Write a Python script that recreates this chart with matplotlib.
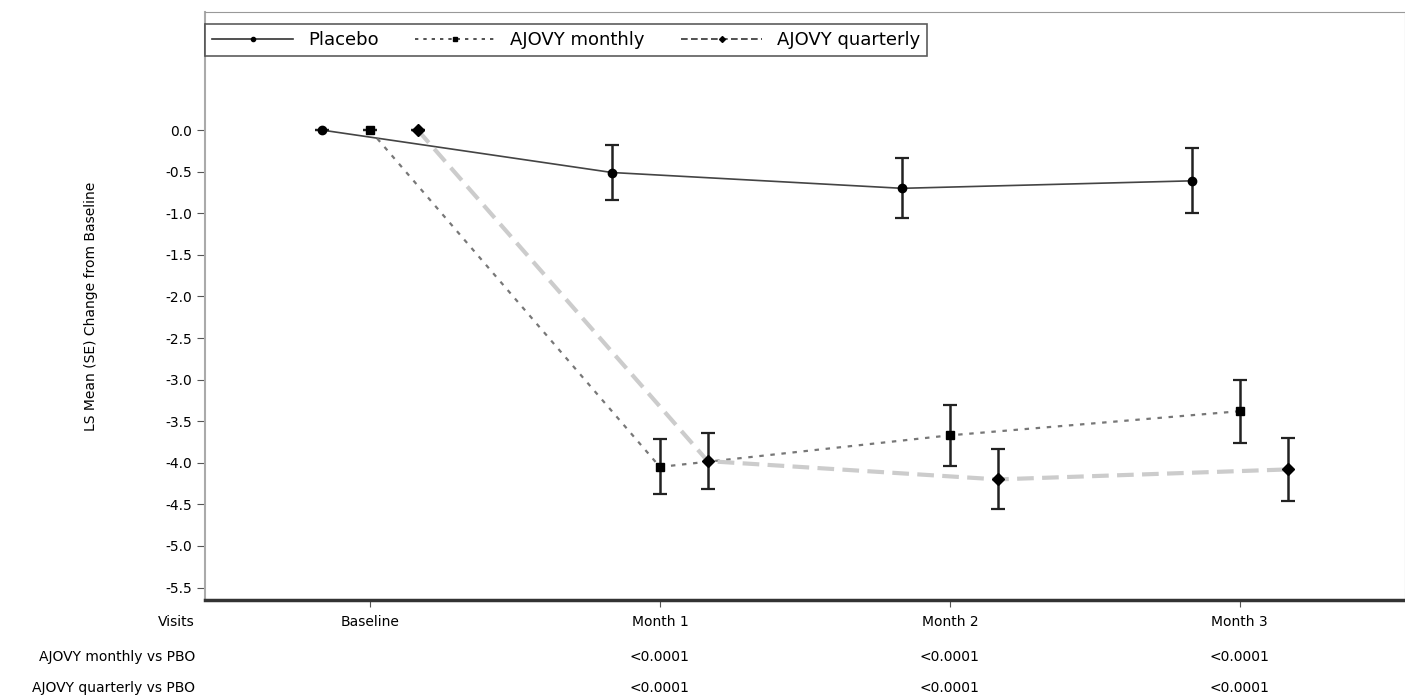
import matplotlib.pyplot as plt
from matplotlib.lines import Line2D

visits = ["Baseline", "Month 1", "Month 2", "Month 3"]
series_names = ["Placebo", "AJOVY monthly", "AJOVY quarterly"]

placebo_mean = [0.0, -0.51, -0.70, -0.61]
placebo_err = [0.0, 0.33, 0.36, 0.39]
monthly_mean = [0.0, -4.05, -3.67, -3.38]
monthly_err = [0.0, 0.33, 0.37, 0.38]
quarterly_mean = [0.0, -3.98, -4.20, -4.08]
quarterly_err = [0.0, 0.34, 0.36, 0.38]

row_labels = ["Visits", "AJOVY monthly vs PBO", "AJOVY quarterly vs PBO"]
p_monthly = ["", "<0.0001", "<0.0001", "<0.0001"]
p_quarterly = ["", "<0.0001", "<0.0001", "<0.0001"]

yticks = [0.0, -0.5, -1.0, -1.5, -2.0, -2.5, -3.0, -3.5, -4.0, -4.5, -5.0, -5.5]

fig = plt.figure(figsize=(14.05, 6.99), dpi=100)
ax = fig.add_axes([205 / 1405, 99 / 699, 1 - 205 / 1405, 588 / 699])

offsets = [-0.165, 0.0, 0.165]
means = [placebo_mean, monthly_mean, quarterly_mean]
errs = [placebo_err, monthly_err, quarterly_err]
styles = [
    dict(color="#444444", linestyle="-", lw=1.2, marker="o"),
    dict(color="#777777", linestyle=(0, (2, 3)), lw=1.6, marker="s"),
    dict(color="#cccccc", linestyle=(0, (4, 2)), lw=3.0, marker="D"),
]

handles = []
for off, m, e, st, name in zip(offsets, means, errs, styles, series_names):
    xs = [i + off for i in range(len(visits))]
    ax.plot(xs, m, color=st["color"], linestyle=st["linestyle"], lw=st["lw"], zorder=1)
    ax.errorbar(xs, m, yerr=e, fmt=st["marker"], color="black", ms=6,
                ecolor="#222222", elinewidth=1.8, capsize=5, capthick=1.6, zorder=3)
    handles.append(Line2D([0], [0], color="#333333", linestyle=st["linestyle"],
                          lw=1.2, marker=st["marker"], ms=3, mfc="black", mec="black"))

ax.set_xlim(-0.569, 3.57)
ax.set_ylim(-5.65, 1.42)
ax.set_yticks(yticks)
ax.set_yticklabels([f"{t:.1f}" for t in yticks], fontsize=10)
ax.set_xticks(range(len(visits)))
ax.set_xticklabels([])
ax.tick_params(axis="y", direction="out", length=6, color="#555555")
ax.tick_params(axis="x", direction="out", length=5, color="#555555")
ax.set_ylabel("LS Mean (SE) Change from Baseline", fontsize=10, labelpad=48)

for side in ["top", "right"]:
    ax.spines[side].set_color("#999999")
ax.spines["left"].set_color("#aaaaaa")
ax.spines["left"].set_linewidth(1.5)
ax.spines["bottom"].set_color("#333333")
ax.spines["bottom"].set_linewidth(2.5)

leg = ax.legend(handles, series_names, loc="upper left", ncol=3, frameon=True,
                fontsize=13, handlelength=4.5, columnspacing=2.0,
                bbox_to_anchor=(0.0, 0.98), borderaxespad=0.0, fancybox=False)
leg.get_frame().set_edgecolor("#333333")
leg.get_frame().set_linewidth(1.2)

# table under the axis
row_y = [622, 657, 688]
for lab, yy in zip(row_labels, row_y):
    fig.text(195 / 1405, 1 - yy / 699, lab, ha="right", va="center", fontsize=10)
for i, v in enumerate(visits):
    xfig = ax.transData.transform((i, 0))[0] / fig.bbox.width
    fig.text(xfig, 1 - row_y[0] / 699, v, ha="center", va="center", fontsize=10)
    fig.text(xfig, 1 - row_y[1] / 699, p_monthly[i], ha="center", va="center", fontsize=10)
    fig.text(xfig, 1 - row_y[2] / 699, p_quarterly[i], ha="center", va="center", fontsize=10)

fig.savefig("out.png", dpi=100)
